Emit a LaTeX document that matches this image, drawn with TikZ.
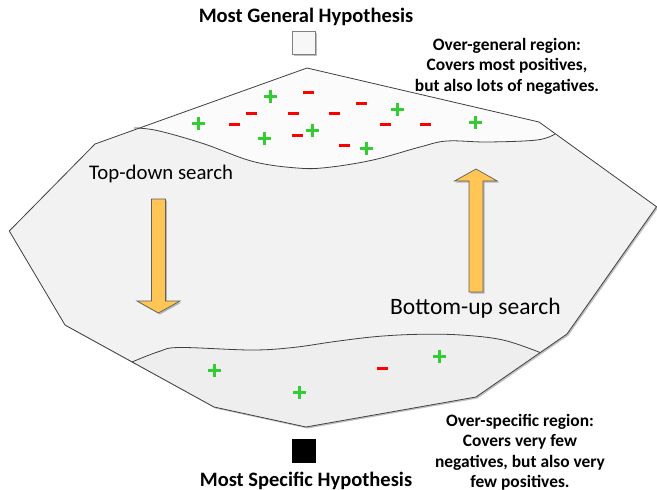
\documentclass[tikz,border=0pt]{standalone}
\usepackage{fontspec}
\setmainfont{Carlito}
\usetikzlibrary{shadows}

\definecolor{edgegray}{RGB}{64,64,64}
\definecolor{bodyfill}{RGB}{242,242,242}
\definecolor{topfill}{RGB}{251,251,251}
\definecolor{lowfill}{RGB}{238,238,238}
\definecolor{arrowfill}{RGB}{255,198,85}
\definecolor{arrowedge}{RGB}{96,96,96}
\definecolor{posgreen}{RGB}{51,204,51}
\definecolor{negred}{RGB}{255,0,0}

\tikzset{
  outline/.style={draw=edgegray, line width=0.8pt, line join=round},
  softshadow/.style={drop shadow={shadow xshift=1.5pt, shadow yshift=-1.5pt, opacity=0.25, fill=black}},
  searcharrow/.style={draw=arrowedge, line width=0.7pt, fill=arrowfill, line join=miter, softshadow},
  headline/.style={font=\bfseries\fontsize{20.5}{24}\selectfont},
  regionnote/.style={font=\bfseries\fontsize{17.4}{20.5}\selectfont, align=center, inner sep=0pt},
  plusmark/.pic={\draw[posgreen, line width=3pt] (-6.5,0) -- (6.5,0) (0,-6.5) -- (0,6.5);},
  minusmark/.pic={\draw[negred, line width=3pt] (-5.5,0) -- (5.5,0);}
}

\begin{document}
\begin{tikzpicture}[x=1pt, y=-1pt]
\useasboundingbox (0,0) rectangle (657,490);

% corners of the hypothesis space
\coordinate (apex) at (307,68);
\coordinate (ne)   at (539,122);
\coordinate (e)    at (656.5,206.7);
\coordinate (se)   at (567,334);
\coordinate (sse)  at (476,397);
\coordinate (bot)  at (306,427);
\coordinate (ssw)  at (214,407);
\coordinate (sw)   at (65,325);
\coordinate (w)    at (9.3,231);
\coordinate (nw)   at (95,144);

% whole space
\fill[bodyfill, softshadow] (apex) -- (ne) -- (e) -- (se) -- (sse) -- (bot) -- (ssw) -- (sw) -- (w) -- (nw) -- cycle;

% over-general band
\fill[topfill] (134,128) -- (apex) -- (ne) -- (555,134)
  -- plot[smooth, tension=0.6] coordinates {(555,134) (537,140) (487,142) (447,141) (420,147) (373,160) (327,167.5) (297,168) (253,161.5) (203,143.5) (157,130.5) (134,128)} -- cycle;
\draw[outline] plot[smooth, tension=0.6] coordinates {(134,128) (157,130.5) (203,143.5) (253,161.5) (297,168) (327,167.5) (373,160) (420,147) (447,141) (487,142) (537,140) (555,134)};

% over-specific band
\fill[lowfill] plot[smooth, tension=0.6] coordinates {(132,362) (159,351.5) (180,347.5) (251,350) (293,347.5) (335,341.5) (377,336.5) (419,334.3) (461,335) (503,340) (540.6,352.7)}
  -- (sse) -- (bot) -- (ssw) -- cycle;
\draw[outline] plot[smooth, tension=0.6] coordinates {(132,362) (159,351.5) (180,347.5) (251,350) (293,347.5) (335,341.5) (377,336.5) (419,334.3) (461,335) (503,340) (540.6,352.7)};

% border of the space
\draw[outline] (apex) -- (ne) -- (e) -- (se) -- (sse) -- (bot) -- (ssw) -- (sw) -- (w) -- (nw) -- cycle;

% positive and negative examples
\foreach \px/\py in {270/96, 198.3/123.3, 264/138.3, 312.7/130, 397.3/109.3, 366/148.3, 475.7/122.7,
                     214.6/370.7, 299.7/392.7, 439.2/356}
  \pic at (\px,\py) {plusmark};
\foreach \mx/\my in {308.3/92.3, 251.7/113.3, 293.3/113.3, 334/113.3, 361.7/103.3, 234.3/124,
                     297.7/135.7, 385/124, 425/124, 344.3/145.7, 382.2/368.3}
  \pic at (\mx,\my) {minusmark};

% search directions
\draw[searcharrow] (151.4,199) -- (165.4,199) -- (165.4,301) -- (180,301) -- (158.4,313) -- (137,301) -- (151.4,301) -- cycle;
\draw[searcharrow] (469,292) -- (483,292) -- (483,181) -- (497.3,181) -- (476,169) -- (454.5,181) -- (469,181) -- cycle;

% extreme hypotheses
\node[draw=gray, fill=gray!6, minimum size=23pt, inner sep=0pt, softshadow] (general) at (304,43) {};
\node[draw=black, fill=black, minimum size=23pt, inner sep=0pt] (specific) at (304,451) {};

% labels
\node[headline] (generallabel) at (306,17) {Most General Hypothesis};
\node[headline] (specificlabel) at (306,481) {Most Specific Hypothesis};
\node[regionnote] (overgeneral) at (507,66) {Over-general region:\\Covers most positives,\\but also lots of negatives.};
\node[regionnote] (overspecific) at (520,452) {Over-specific region:\\Covers very few\\negatives, but also very\\few positives.};
\node[font=\fontsize{20.8}{24}\selectfont, anchor=west, inner sep=0pt] (topdown) at (89,174) {Top-down search};
\node[font=\fontsize{23.5}{28}\selectfont, anchor=west, inner sep=0pt] (bottomup) at (390,308) {Bottom-up search};
\end{tikzpicture}
\end{document}
